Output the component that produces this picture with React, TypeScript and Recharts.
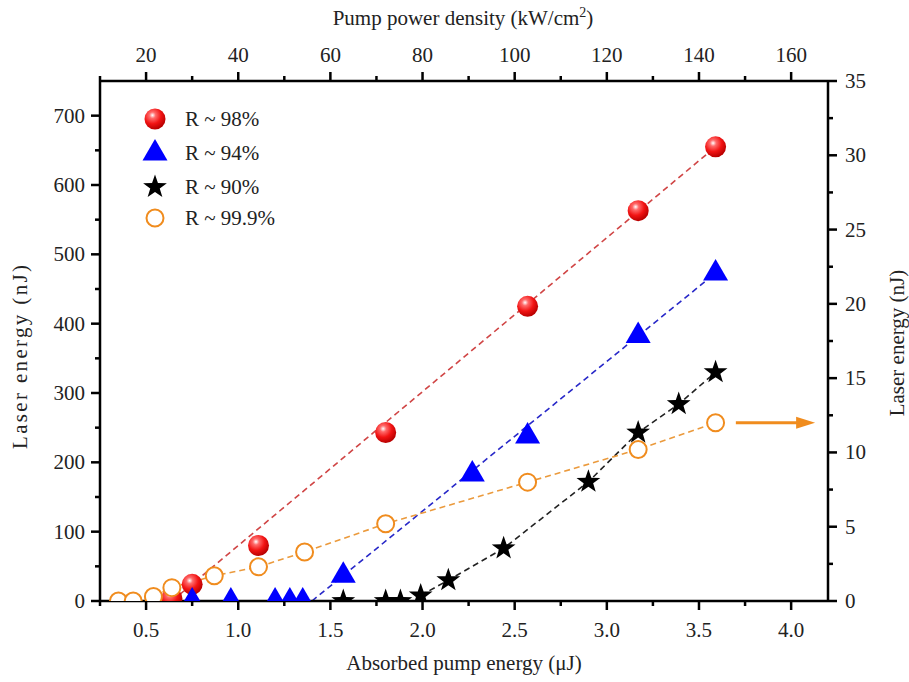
import React from "react";
import { ComposedChart, Scatter, Line, XAxis, YAxis, ReferenceLine } from "recharts";

const FONT = "'Liberation Serif', 'Times New Roman', Times, serif";

// absorbed pump energy (uJ) -> laser energy (nJ), left axis
const r98X = [0.64, 0.75, 1.11, 1.8, 2.57, 3.17, 3.59];
const r98Y = [4, 24, 80, 243, 425, 563, 655];
const r94X = [0.75, 0.96, 1.2, 1.28, 1.35, 1.57, 2.27, 2.57, 3.17, 3.59];
const r94Y = [0, 0, 0, 0, 0, 37, 183, 238, 383, 473];
const r90X = [1.57, 1.8, 1.88, 1.99, 2.14, 2.44, 2.9, 3.17, 3.39, 3.59];
const r90Y = [0, 0, 0, 8, 30, 76, 172, 243, 284, 330];
// R ~ 99.9% is read on the right axis
const r999X = [0.35, 0.43, 0.54, 0.64, 0.87, 1.11, 1.36, 1.8, 2.57, 3.17, 3.59];
const r999Y = [0, 0, 0.3, 0.9, 1.7, 2.3, 3.3, 5.2, 8.0, 10.2, 12.0];

// dashed guide lines
const fit98X = [0.64, 3.59];
const fit98Y = [0, 655];
const fit94X = [1.4, 3.59];
const fit94Y = [0, 473];

const xTicks = [0.25, 0.5, 0.75, 1, 1.25, 1.5, 1.75, 2, 2.25, 2.5, 2.75, 3, 3.25, 3.5, 3.75, 4];
const xMajor = [0.5, 1, 1.5, 2, 2.5, 3, 3.5, 4];
const leftTicks = [0, 50, 100, 150, 200, 250, 300, 350, 400, 450, 500, 550, 600, 650, 700];
const leftMajor = [0, 100, 200, 300, 400, 500, 600, 700];
const rightTicks = [0, 2.5, 5, 7.5, 10, 12.5, 15, 17.5, 20, 22.5, 25, 27.5, 30, 32.5, 35];
const rightMajor = [0, 5, 10, 15, 20, 25, 30, 35];

const zip = (xs: number[], ys: number[]) => xs.map((x, i) => ({ x, y: ys[i] }));

const d98 = zip(r98X, r98Y);
const d94 = zip(r94X, r94Y);
const d90 = zip(r90X, r90Y);
const d999 = zip(r999X, r999Y);
const line98 = zip(fit98X, fit98Y);
const line94 = zip(fit94X, fit94Y);
const line90 = d90.slice(3);
const line999 = d999.slice(2);

const ORANGE = "#f08c1e";
const txtStyle = { fontFamily: FONT, fontSize: 21, fill: "#222" };

const Sphere = ({ cx, cy }: any) => (
  <g>
    <defs>
      <radialGradient id="sph" cx="38%" cy="32%" r="68%">
        <stop offset="0%" stopColor="#ffffff" />
        <stop offset="22%" stopColor="#ff6a6a" />
        <stop offset="60%" stopColor="#f21414" />
        <stop offset="100%" stopColor="#b80000" />
      </radialGradient>
    </defs>
    <circle cx={cx} cy={cy} r={10.5} fill="url(#sph)" />
  </g>
);

const Tri = ({ cx, cy }: any) => (
  <path d={`M${cx},${cy - 14} L${cx + 12.5},${cy + 7.5} L${cx - 12.5},${cy + 7.5} Z`} fill="#0000ff" />
);

const starPath = (cx: number, cy: number, R: number, r: number) => {
  let d = "";
  for (let i = 0; i < 10; i++) {
    const rad = i % 2 === 0 ? R : r;
    const a = -Math.PI / 2 + (i * Math.PI) / 5;
    d += `${i === 0 ? "M" : "L"}${cx + rad * Math.cos(a)},${cy + rad * Math.sin(a)}`;
  }
  return d + "Z";
};

const Star = ({ cx, cy }: any) => <path d={starPath(cx, cy, 12.5, 5)} fill="#000" />;

const Ring = ({ cx, cy }: any) => (
  <circle cx={cx} cy={cy} r={8.5} fill="#fff" stroke={ORANGE} strokeWidth={2} />
);

const isMajor = (v: number, majors: number[]) => majors.some((m) => Math.abs(m - v) < 1e-6);

const makeTick = (side: string, majors: number[], fmt: (v: number) => string) => (props: any) => {
  const { x, y, payload } = props;
  const v = payload.value;
  const major = isMajor(v, majors);
  const len = major ? 9 : 5;
  if (side === "bottom")
    return (
      <g>
        <line x1={x} y1={y} x2={x} y2={y + len} stroke="#000" strokeWidth={2.5} />
        {major && <text x={x} y={y + 36} textAnchor="middle" style={txtStyle}>{fmt(v)}</text>}
      </g>
    );
  if (side === "top")
    return (
      <g>
        <line x1={x} y1={y} x2={x} y2={y - len} stroke="#000" strokeWidth={2.5} />
        {major && <text x={x} y={y - 19} textAnchor="middle" style={txtStyle}>{fmt(v)}</text>}
      </g>
    );
  if (side === "left")
    return (
      <g>
        <line x1={x - len} y1={y} x2={x} y2={y} stroke="#000" strokeWidth={2.5} />
        {major && <text x={x - 15} y={y + 7} textAnchor="end" style={txtStyle}>{fmt(v)}</text>}
      </g>
    );
  return (
    <g>
      <line x1={x} y1={y} x2={x + len} y2={y} stroke="#000" strokeWidth={2.5} />
      {major && <text x={x + 17} y={y + 7} textAnchor="start" style={txtStyle}>{fmt(v)}</text>}
    </g>
  );
};

const Arrow = ({ x1, y1, x2, y2 }: any) => (
  <g>
    <line x1={x1} y1={y1} x2={x2 - 16} y2={y2} stroke={ORANGE} strokeWidth={3} />
    <path d={`M${x2},${y2} L${x2 - 19},${y2 - 6} L${x2 - 19},${y2 + 6} Z`} fill={ORANGE} />
  </g>
);

const legendRows = [
  { label: "R ~ 98%", Shape: Sphere },
  { label: "R ~ 94%", Shape: Tri },
  { label: "R ~ 90%", Shape: Star },
  { label: "R ~ 99.9%", Shape: Ring },
];
const legendY = [119, 153, 187, 218];

const axisLine = { stroke: "#000", strokeWidth: 2.5 };

export default function App() {
  return (
    <div style={{ position: "absolute", left: 0, top: 0, width: 909, height: 682, background: "#fff", fontFamily: FONT }}>
      <ComposedChart width={909} height={682} margin={{ top: 0, right: 0, bottom: 0, left: 0 }} style={{ fontFamily: FONT }}>
        <XAxis
          xAxisId="b"
          dataKey="x"
          type="number"
          domain={[0.25, 4.2]}
          allowDataOverflow
          ticks={xTicks}
          interval={0}
          height={81}
          tickSize={0}
          tickMargin={0}
          tickLine={false}
          axisLine={axisLine}
          tick={makeTick("bottom", xMajor, (v) => v.toFixed(1))}
        />
        <XAxis
          xAxisId="t"
          dataKey="x"
          orientation="top"
          type="number"
          domain={[0.25, 4.2]}
          allowDataOverflow
          ticks={xTicks}
          interval={0}
          height={81}
          tickSize={0}
          tickMargin={0}
          tickLine={false}
          axisLine={axisLine}
          tick={makeTick("top", xMajor, (v) => String(Math.round(v * 40)))}
        />
        <YAxis
          yAxisId="l"
          dataKey="y"
          type="number"
          domain={[0, 750]}
          allowDataOverflow
          ticks={leftTicks}
          interval={0}
          width={100}
          tickSize={0}
          tickMargin={0}
          tickLine={false}
          axisLine={axisLine}
          tick={makeTick("left", leftMajor, (v) => String(v))}
        />
        <YAxis
          yAxisId="r"
          orientation="right"
          dataKey="y"
          type="number"
          domain={[0, 35]}
          allowDataOverflow
          ticks={rightTicks}
          interval={0}
          width={81}
          tickSize={0}
          tickMargin={0}
          tickLine={false}
          axisLine={axisLine}
          tick={makeTick("right", rightMajor, (v) => String(v))}
        />

        {/* invisible series so the top (pump power density) axis gets drawn */}
        <Line xAxisId="t" yAxisId="l" data={line98} dataKey="y" stroke="none" dot={false} activeDot={false} isAnimationActive={false} />

        <Line xAxisId="b" yAxisId="l" data={line98} dataKey="y" stroke="#d04545" strokeWidth={1.6} strokeDasharray="6 4" dot={false} isAnimationActive={false} />
        <Line xAxisId="b" yAxisId="l" data={line94} dataKey="y" stroke="#2828c8" strokeWidth={1.6} strokeDasharray="6 4" dot={false} isAnimationActive={false} />
        <Line xAxisId="b" yAxisId="l" data={line90} dataKey="y" stroke="#222" strokeWidth={1.6} strokeDasharray="6 4" dot={false} isAnimationActive={false} />
        <Line xAxisId="b" yAxisId="r" data={line999} dataKey="y" stroke="#eb9a3c" strokeWidth={1.6} strokeDasharray="6 4" dot={false} isAnimationActive={false} />

        <Scatter xAxisId="b" yAxisId="l" data={d98} shape={Sphere} isAnimationActive={false} />
        <Scatter xAxisId="b" yAxisId="l" data={d94} shape={Tri} isAnimationActive={false} />
        <Scatter xAxisId="b" yAxisId="l" data={d90} shape={Star} isAnimationActive={false} />
        <Scatter xAxisId="b" yAxisId="r" data={d999} shape={Ring} isAnimationActive={false} />

        <ReferenceLine
          xAxisId="b"
          yAxisId="r"
          segment={[{ x: 3.7, y: 12 }, { x: 4.13, y: 12 }]}
          shape={Arrow}
        />

        {legendRows.map((row, i) => (
          <g key={row.label}>
            <row.Shape cx={155} cy={legendY[i]} />
            <text x={185} y={legendY[i] + 7} style={txtStyle}>{row.label}</text>
          </g>
        ))}

        <text x={463} y={25} textAnchor="middle" style={txtStyle}>
          Pump power density (kW/cm<tspan dy={-8} style={{ fontSize: 14 }}>2</tspan><tspan dy={8}>)</tspan>
        </text>
        <text x={464} y={670} textAnchor="middle" style={txtStyle}>
          Absorbed pump energy (μJ)
        </text>
        <text x={27} y={357} textAnchor="middle" style={txtStyle} transform="rotate(-90, 27, 357)" textLength={184} lengthAdjust="spacing">
          Laser energy (nJ)
        </text>
        <text x={904} y={343} textAnchor="middle" style={txtStyle} transform="rotate(-90, 904, 343)">
          Laser energy (nJ)
        </text>
      </ComposedChart>
    </div>
  );
}
